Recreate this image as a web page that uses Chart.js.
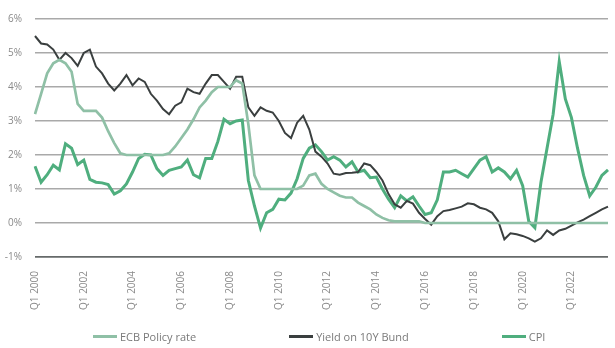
<!DOCTYPE html>
<html>
<head>
<meta charset="utf-8">
<script src="https://cdn.jsdelivr.net/npm/chart.js@4.4.1/dist/chart.umd.min.js"></script>
<style>
  body { margin: 0; background: #fff; }
  #wrap { position: relative; width: 615px; height: 348px; }
  #legend { position: absolute; left: 93px; top: 329px; display: flex; gap: 93px;
            font-family: "Open Sans", sans-serif; font-size: 11px; color: #7a7a7a; }
  #legend .item { display: flex; align-items: center; }
  #legend .line { width: 24px; height: 3px; margin-right: 3px; }
</style>
</head>
<body>
<div id="wrap">
  <canvas id="chart" width="615" height="348"></canvas>
  <div id="legend"></div>
</div>
<script>
// quarterly, Q1 2000 .. Q3 2023
const quarters = [];
for (let y = 2000; y <= 2023; y++) {
  for (let q = 1; q <= 4; q++) {
    if (y === 2023 && q > 3) break;
    quarters.push("Q" + q + " " + y);
  }
}

const ecbRate = [3.2,3.8,4.4,4.7,4.8,4.7,4.45,3.5,3.3,3.3,
  3.3,3.1,2.7,2.35,2.05,2.0,2.0,2.0,2.0,2.0,
  2.0,2.0,2.05,2.25,2.5,2.75,3.05,3.4,3.6,3.85,
  4.0,4.0,4.0,4.2,4.1,2.9,1.4,1.0,1.0,1.0,
  1.0,1.0,1.0,1.0,1.1,1.4,1.45,1.15,1.0,0.9,
  0.8,0.75,0.75,0.6,0.5,0.4,0.25,0.15,0.08,0.05,
  0.05,0.05,0.05,0.05,0,0,0,0,0,0,
  0,0,0,0,0,0,0,0,0,0,
  0,0,0,0,0,0,0,0,0,0,
  0,0,0,0,0];

const bundYield = [5.5,5.28,5.25,5.1,4.8,5.0,4.85,4.62,5.0,5.1,
  4.6,4.4,4.1,3.9,4.1,4.35,4.05,4.25,4.15,3.8,
  3.6,3.35,3.2,3.45,3.55,3.95,3.85,3.8,4.1,4.35,
  4.35,4.15,3.95,4.3,4.3,3.4,3.15,3.4,3.3,3.25,
  3.0,2.65,2.5,2.95,3.15,2.75,2.1,1.95,1.75,1.45,
  1.42,1.47,1.48,1.5,1.75,1.7,1.5,1.25,0.85,0.55,
  0.45,0.65,0.57,0.3,0.12,-0.05,0.2,0.35,0.38,0.43,
  0.48,0.58,0.55,0.45,0.4,0.3,0.05,-0.48,-0.3,-0.33,
  -0.38,-0.45,-0.55,-0.45,-0.22,-0.35,-0.22,-0.17,-0.08,0.02,
  0.1,0.2,0.3,0.4,0.48];

const cpi = [1.67,1.2,1.42,1.7,1.56,2.33,2.2,1.72,1.85,1.28,
  1.2,1.18,1.13,0.85,0.95,1.15,1.5,1.9,2.02,2.0,
  1.6,1.4,1.55,1.6,1.65,1.85,1.42,1.33,1.9,1.9,
  2.4,3.05,2.92,3.0,3.03,1.25,0.5,-0.15,0.3,0.4,
  0.7,0.68,0.88,1.3,1.9,2.2,2.3,2.1,1.85,1.95,
  1.85,1.65,1.8,1.5,1.55,1.33,1.35,1.0,0.7,0.45,
  0.8,0.65,0.77,0.5,0.25,0.3,0.68,1.5,1.5,1.55,
  1.45,1.35,1.6,1.85,1.95,1.5,1.62,1.5,1.3,1.55,
  1.1,0.05,-0.14,1.2,2.2,3.2,4.75,3.65,3.1,2.2,
  1.4,0.8,1.05,1.4,1.56];

const yTicks = [-1, 0, 1, 2, 3, 4, 5, 6];

const htmlLegend = {
  id: "htmlLegend",
  afterUpdate(chart) {
    const box = document.getElementById("legend");
    box.innerHTML = "";
    chart.data.datasets.forEach(ds => {
      const item = document.createElement("div");
      item.className = "item";
      const line = document.createElement("span");
      line.className = "line";
      line.style.background = ds.borderColor;
      const txt = document.createElement("span");
      txt.textContent = ds.label;
      item.appendChild(line);
      item.appendChild(txt);
      box.appendChild(item);
    });
  }
};

new Chart(document.getElementById("chart"), {
  type: "line",
  data: {
    labels: quarters,
    datasets: [
      { label: "ECB Policy rate", data: ecbRate, borderColor: "#8fc0a6", borderWidth: 2.7 },
      { label: "Yield on 10Y Bund", data: bundYield, borderColor: "#3a3f3f", borderWidth: 2 },
      { label: "CPI", data: cpi, borderColor: "#4fae7e", borderWidth: 3 }
    ]
  },
  options: {
    responsive: false,
    animation: false,
    elements: { point: { radius: 0 }, line: { tension: 0 } },
    layout: { padding: { top: 10, right: 7, left: 0, bottom: 31 } },
    plugins: { legend: { display: false }, tooltip: { enabled: false } },
    scales: {
      x: {
        grid: { display: false },
        border: { display: false },
        afterFit: s => { s.height = 60; },
        ticks: {
          autoSkip: false, minRotation: 90, maxRotation: 90, padding: 6,
          color: "#8a8a8a", font: { family: "Open Sans", size: 10 },
          callback: function (v, i) { return i % 8 === 0 ? this.getLabelForValue(v) : null; }
        }
      },
      y: {
        min: -1, max: 6,
        afterFit: s => { s.width = 35; },
        afterBuildTicks: s => { s.ticks = yTicks.map(v => ({ value: v })); },
        border: { display: false },
        grid: {
          drawTicks: false,
          color: c => c.tick.value === -1 ? "#666a6a" : "#a9a9a9",
          lineWidth: c => c.tick.value === -1 ? 1.8 : 1.4
        },
        ticks: {
          padding: 13, color: "#8a8a8a", font: { family: "Open Sans", size: 10 },
          callback: v => v + "%"
        }
      }
    }
  },
  plugins: [htmlLegend]
});
</script>
</body>
</html>
